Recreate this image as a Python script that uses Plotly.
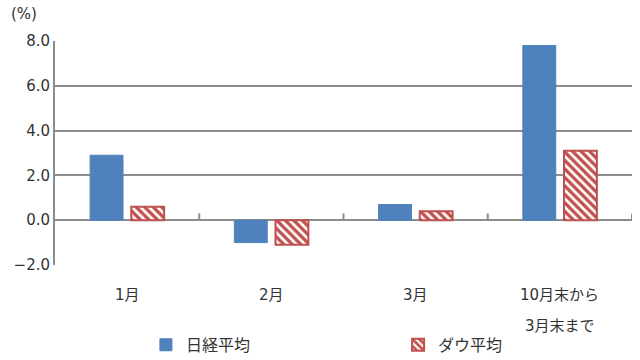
import plotly.graph_objects as go

categories = ["1月", "2月", "3月", "10月末から3月末まで"]
label_line1 = ["1月", "2月", "3月", "10月末から"]
label_line2 = ["", "", "", "3月末まで"]
nikkei = [2.9, -1.0, 0.7, 7.8]
dow = [0.6, -1.1, 0.4, 3.1]
y_ticks = [-2, 0, 2, 4, 6, 8]

blue = "#4F81BD"
red = "#C0504D"
grid = "#8C8C8C"
txt = "#333333"
font_fam = "DejaVu Sans, Noto Sans CJK JP, sans-serif"

fig = go.Figure()
fig.add_trace(go.Bar(
    x=categories, y=nikkei, name="日経平均", legend="legend",
    marker=dict(color=blue, line=dict(color=blue, width=1)),
))
fig.add_trace(go.Bar(
    x=categories, y=dow, name="ダウ平均", legend="legend2",
    marker=dict(color="white", line=dict(color=red, width=2),
                pattern=dict(shape="\\", fgcolor=red, bgcolor="white",
                             size=6, solidity=0.55, fgopacity=1)),
))

# small category-boundary ticks on the zero line
for i in range(1, len(categories) + 1):
    fig.add_shape(type="line", xref="x", yref="y",
                  x0=i - 0.5, x1=i - 0.5, y0=0, y1=0.3,
                  line=dict(color=grid, width=2))

annotations = [dict(text="(%)", xref="paper", yref="paper", x=-0.08, y=1.07,
                    xanchor="left", yanchor="bottom", showarrow=False,
                    font=dict(size=15, color=txt))]
for cat, l1, l2 in zip(categories, label_line1, label_line2):
    annotations.append(dict(text=l1, xref="x", yref="paper", x=cat, y=-0.085,
                            yanchor="top", showarrow=False,
                            font=dict(size=15, color=txt)))
    if l2:
        annotations.append(dict(text=l2, xref="x", yref="paper", x=cat, y=-0.222,
                                yanchor="top", showarrow=False,
                                font=dict(size=15, color=txt)))

leg_common = dict(orientation="h", yref="container", xref="container",
                  yanchor="middle", xanchor="left", y=0.042,
                  font=dict(size=16, color=txt), itemwidth=30,
                  bgcolor="rgba(0,0,0,0)")

fig.update_layout(
    width=640, height=360,
    margin=dict(l=55, r=8, t=41, b=95),
    paper_bgcolor="white", plot_bgcolor="white",
    barmode="group", bargap=0.43, bargroupgap=0.2,
    font=dict(family=font_fam, size=14, color=txt),
    showlegend=True,
    legend=dict(leg_common, x=0.228),
    legend2=dict(leg_common, x=0.622),
    annotations=annotations,
)
fig.update_xaxes(showline=False, showgrid=False, ticks="", showticklabels=False,
                 range=[-0.5, 3.5])
fig.update_yaxes(range=[-2, 8], tickvals=y_ticks, tickformat=".1f",
                 showgrid=True, gridcolor=grid, gridwidth=2,
                 zeroline=True, zerolinecolor=grid, zerolinewidth=2,
                 showline=True, linecolor=grid, linewidth=2,
                 ticks="", tickfont=dict(size=15, color=txt))

fig.write_html("out.html")
